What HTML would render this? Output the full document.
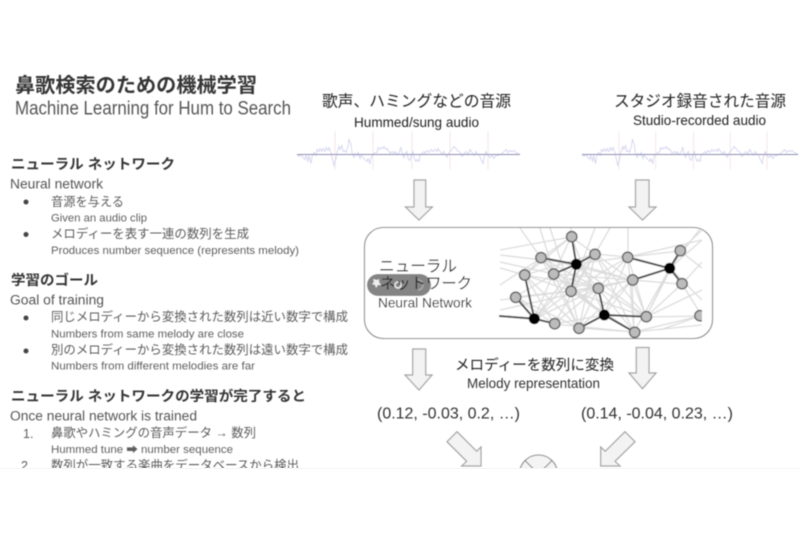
<!DOCTYPE html>
<html lang="ja">
<head>
<meta charset="utf-8">
<title>Machine Learning for Hum to Search</title>
<style>
html,body{margin:0;padding:0;width:800px;height:533px;background:#fff;overflow:hidden}
svg{display:block}
text{font-family:"Liberation Sans","Noto Sans CJK JP",sans-serif;dominant-baseline:central}
.h{font-weight:700;fill:#353535}
.l{fill:#555}
.s{fill:#5e5e5e}
.j{fill:#5c5c5c}
.r{fill:#222}
.arrow{fill:#f3f3f3;stroke:#a2a2a2;stroke-width:1.2}
</style>
</head>
<body>
<svg width="800" height="533" viewBox="0 0 800 533" xmlns="http://www.w3.org/2000/svg">
<defs>
<filter id="b" x="-2%" y="-2%" width="104%" height="104%"><feGaussianBlur stdDeviation="0.55"/></filter>
<clipPath id="page"><rect x="0" y="0" width="800" height="468"/></clipPath>
<clipPath id="net"><rect x="499" y="228" width="203" height="110"/></clipPath>
<g id="wave">
<g stroke="#f3dfe3" stroke-width="0.8"><line x1="38" y1="-23" x2="38" y2="15"/><line x1="76" y1="-23" x2="76" y2="15"/><line x1="115" y1="-23" x2="115" y2="15"/><line x1="153" y1="-23" x2="153" y2="15"/><line x1="191" y1="-23" x2="191" y2="15"/></g>
<polyline fill="none" stroke="#cfcfee" stroke-width="0.8" points="0,0 2,2 4,0 6,3 8,5 9,1 11,7 12,1 14,9 15,2 17,-2 19,1 20,-5 22,-3 23,-6 25,-3 26,-6 28,-3 29,-7 31,-4 32,-7 34,-2 35,3 36,7 37,11 39,4 40,-2 42,-8 43,-5 45,-9 46,-3 48,-4 49,-2 51,-8 52,-15 54,-10 55,-2 57,3 58,-1 60,1 61,-2 63,4 64,0 66,3 68,5 70,7 71,4 73,9 74,3 76,0 78,-2 80,-2 81,-7 83,-5 84,-7 86,-6 87,-8 89,-5 90,-6 92,-3 93,-1 95,-3 97,-1 98,-3 100,0 102,-2 104,-7 105,-2 107,3 108,-1 110,-3 111,4 113,6 114,1 116,-3 117,3 119,7 120,5 122,7 123,1 125,-1 127,-3 128,-1 130,-4 132,-2 134,-5 136,-3 138,-5 140,-3 141,-6 143,-3 145,-1 147,-3 148,0 150,3 151,0 153,-3 155,-5 157,-8 159,-6 160,-4 162,-3 164,-1 165,2 167,-1 169,-3 171,0 173,-5 175,-2 177,1 179,-3 180,-1 182,0 184,5 186,9 187,3 189,-3 191,1 193,3 195,1 197,4 199,1 201,1 203,0 205,-1 207,-3 209,-5 211,-2 213,-4 215,-3 217,-4 219,-2 221,-1 223,0"/>
<line x1="0" y1="0" x2="223" y2="0" stroke="#8e8eb0" stroke-width="0.9"/>
</g>
</defs>
<g filter="url(#b)" clip-path="url(#page)">

<!-- Left column -->
<text x="15" y="86" font-size="20" class="h" textLength="242" lengthAdjust="spacingAndGlyphs">鼻歌検索のための機械学習</text>
<text x="15" y="109" font-size="19" class="l" textLength="276" lengthAdjust="spacingAndGlyphs">Machine Learning for Hum to Search</text>

<text x="11" y="164" font-size="14" class="h" textLength="164" lengthAdjust="spacingAndGlyphs">ニューラル ネットワーク</text>
<text x="10" y="184" font-size="13.500" class="l" textLength="93" lengthAdjust="spacingAndGlyphs">Neural network</text>
<circle cx="26" cy="202" r="2.500" fill="#444"/>
<text x="51" y="202" font-size="12.300" class="j" textLength="73" lengthAdjust="spacingAndGlyphs">音源を与える</text>
<text x="51" y="218.500" font-size="11" class="s" textLength="96" lengthAdjust="spacingAndGlyphs">Given an audio clip</text>
<circle cx="26" cy="234.500" r="2.500" fill="#444"/>
<text x="51" y="234" font-size="12.300" class="j" textLength="198" lengthAdjust="spacingAndGlyphs">メロディーを表す一連の数列を生成</text>
<text x="51" y="251" font-size="11" class="s" textLength="248" lengthAdjust="spacingAndGlyphs">Produces number sequence (represents melody)</text>

<text x="11" y="280" font-size="14" class="h" textLength="87" lengthAdjust="spacingAndGlyphs">学習のゴール</text>
<text x="10" y="300" font-size="13.500" class="l" textLength="94" lengthAdjust="spacingAndGlyphs">Goal of training</text>
<circle cx="26" cy="318" r="2.500" fill="#444"/>
<text x="51" y="317" font-size="12.300" class="j" textLength="297" lengthAdjust="spacingAndGlyphs">同じメロディーから変換された数列は近い数字で構成</text>
<text x="51" y="334.500" font-size="11" class="s" textLength="193" lengthAdjust="spacingAndGlyphs">Numbers from same melody are close</text>
<circle cx="26" cy="351" r="2.500" fill="#444"/>
<text x="51" y="350" font-size="12.300" class="j" textLength="297" lengthAdjust="spacingAndGlyphs">別のメロディーから変換された数列は遠い数字で構成</text>
<text x="51" y="366.500" font-size="11" class="s" textLength="204" lengthAdjust="spacingAndGlyphs">Numbers from different melodies are far</text>

<text x="11" y="396" font-size="14" class="h" textLength="295" lengthAdjust="spacingAndGlyphs">ニューラル ネットワークの学習が完了すると</text>
<text x="10" y="416" font-size="13.500" class="l" textLength="187" lengthAdjust="spacingAndGlyphs">Once neural network is trained</text>
<text x="23" y="434" font-size="12.500" class="j">1.</text>
<text x="51" y="433" font-size="12.300" class="j" textLength="205" lengthAdjust="spacingAndGlyphs">鼻歌やハミングの音声データ → 数列</text>
<text x="51" y="450" font-size="11" class="s" textLength="182" lengthAdjust="spacingAndGlyphs">Hummed tune ➡ number sequence</text>
<text x="21" y="466" font-size="12.500" class="j">2.</text>
<text x="51" y="465.500" font-size="12.300" class="j" textLength="248" lengthAdjust="spacingAndGlyphs">数列が一致する楽曲をデータベースから検出</text>

<!-- Right headers -->
<text x="322" y="102" font-size="15.700" class="r" textLength="189" lengthAdjust="spacingAndGlyphs">歌声、ハミングなどの音源</text>
<text x="354" y="122" font-size="14" class="r" textLength="125" lengthAdjust="spacingAndGlyphs">Hummed/sung audio</text>
<text x="614" y="102" font-size="15.700" class="r" textLength="172" lengthAdjust="spacingAndGlyphs">スタジオ録音された音源</text>
<text x="633" y="120" font-size="14" class="r" textLength="133" lengthAdjust="spacingAndGlyphs">Studio-recorded audio</text>

<use href="#wave" transform="translate(297 154.500)"/>
<use href="#wave" transform="translate(582 154.500) scale(0.969 1)"/>

<!-- Top arrows -->
<polygon class="arrow" points="414,180 425.700,180 425.700,207 432.300,207 419,220 405.500,207 414,207"/>
<polygon class="arrow" points="635.500,180 649,180 649,207 656,207 642.500,220 629,207 635.500,207"/>

<!-- Network box -->
<rect x="364.500" y="227.500" width="348" height="111" rx="19" fill="#fff" stroke="#8a8a8a" stroke-width="1.100"/>
<g clip-path="url(#net)">
<g stroke="#dcdcdc" stroke-width="1.300" fill="none">
<path d="M500,255L576,264M500,262L554,274M500,268L525,275M500,300L571,291M500,285L541,258M500,310L598,288M500,250L571,237"/>
<path d="M525,275L571,291M525,275L579,328M525,275L554,324M525,275L541,258M525,275L595,254M541,258L598,288M541,258L571,291M541,258L604,315M541,258L579,328M554,274L604,315M554,274L598,288M554,274L579,328M554,274L515,297M515,297L571,291M515,297L598,288M515,297L579,328M534,319L571,291M534,319L598,288M534,319L553,274M534,319L595,254M534,319L576,264"/>
<path d="M571,237L541,258M571,237L595,254M571,237L554,274M571,237L525,275M571,237L632,280M571,237L604,315M595,254L632,280M595,254L571,291M595,254L646,317M595,254L634,332M595,254L579,328M595,254L554,324M595,254L628,257M628,257L598,288M628,257L571,291M628,257L646,317M628,257L634,332M628,257L604,315M628,257L680,251M632,280L604,315M632,280L571,291M632,280L598,288M632,280L646,317M632,280L579,328M632,280L634,332M632,280L680,284"/>
<path d="M571,291L579,328M571,291L604,315M571,291L634,332M571,291L646,317M598,288L646,317M598,288L634,332M598,288L579,328M598,288L554,324M646,317L700,316M646,317L670,268M634,332L700,316M634,332L670,268M646,317L682,284M646,317L680,251"/>
<path d="M670,268L702,240M670,268L702,300M680,251L702,230M682,284L702,316M682,284L702,262M680,251L702,268M628,257L702,240M646,317L702,290M634,332L702,325M628,228L628,257M595,228L571,291M571,228L571,237M550,228L571,291M520,228L541,258M540,228L554,274M610,228L595,254M700,229L670,268M660,330L700,316"/>
<path d="M554,324L604,315M579,328L634,332M554,324L634,332M515,297L554,324M525,275L598,288M541,258L632,280M554,274L632,280M576,264L632,280M576,264L628,257M576,264L646,317M576,264L598,288"/>
</g>
<g stroke="#4c4c4c" stroke-width="2" fill="none">
<path d="M576.300,264.300L571.700,236.700M576.300,264.300L541,257.700M576.300,264.300L595,254.300M576.300,264.300L553.700,274M576.300,264.300L571,291.300"/>
<path d="M669.700,268.300L627.700,257.300M669.700,268.300L632.700,280M669.700,268.300L680.300,250.700M669.700,268.300L682,283.700"/>
<path d="M604.300,315L598.300,288.300M604.300,315L646.300,316.700M604.300,315L634.700,332.300M604.300,315L579,328.300"/>
<path d="M534.300,318.700L524.700,275M534.300,318.700L515.700,297.300M534.300,318.700L554.700,323.700M534.300,318.700L499,316"/>
</g>
<g fill="#bcbcbc" stroke="#666" stroke-width="1.500">
<circle cx="571.700" cy="236.700" r="5.200"/><circle cx="541" cy="257.700" r="5.200"/><circle cx="595" cy="254.300" r="5.200"/><circle cx="627.700" cy="257.300" r="5.200"/><circle cx="680.300" cy="250.700" r="5.200"/><circle cx="524.700" cy="275" r="5.200"/><circle cx="553.700" cy="274" r="5.200"/><circle cx="632.700" cy="280" r="5.200"/><circle cx="682" cy="283.700" r="5.200"/><circle cx="571" cy="291.300" r="5.200"/><circle cx="598.300" cy="288.300" r="5.200"/><circle cx="515.700" cy="297.300" r="5.200"/><circle cx="646.300" cy="316.700" r="5.200"/><circle cx="700" cy="315.700" r="5.200"/><circle cx="554.700" cy="323.700" r="5.200"/><circle cx="579" cy="328.300" r="5.200"/><circle cx="634.700" cy="332.300" r="5.200"/>
</g>
<g fill="#000">
<circle cx="576.300" cy="264.300" r="5.500"/><circle cx="669.700" cy="268.300" r="5.500"/><circle cx="604.300" cy="315" r="5.500"/><circle cx="534.300" cy="318.700" r="5.500"/>
</g>
</g>

<!-- Pill overlay -->
<rect x="367" y="274" width="64" height="22" rx="11" fill="#848484"/>
<path d="M373,279l4,1 2,-1 0,3 2,3 -3,0 -2,3 -1,-3 -3,-1 2,-2z" fill="#eee"/>
<circle cx="398" cy="285" r="3" fill="none" stroke="#eee" stroke-width="1.500"/>
<path d="M418,280a5,5 0 0 1 0,10" fill="none" stroke="#a8a8a8" stroke-width="1.500"/>

<text x="379" y="267" font-size="16" class="r" textLength="78" lengthAdjust="spacingAndGlyphs">ニューラル</text>
<text x="380" y="284" font-size="15.500" class="r" textLength="92" lengthAdjust="spacingAndGlyphs">ネットワーク</text>
<text x="378" y="302.500" font-size="14" class="r" textLength="94" lengthAdjust="spacingAndGlyphs">Neural Network</text>

<!-- Middle arrows -->
<polygon class="arrow" points="412.700,349 425.700,349 425.700,375 432,375 419,390 405,375 412.700,375"/>
<polygon class="arrow" points="636.300,347.500 649,347.500 649,373 656,373 642.500,388.700 629,373 636.300,373"/>

<text x="455" y="366" font-size="14.500" class="r" textLength="159" lengthAdjust="spacingAndGlyphs">メロディーを数列に変換</text>
<text x="467" y="383" font-size="14" fill="#333" textLength="133" lengthAdjust="spacingAndGlyphs">Melody representation</text>
<text x="377" y="414" font-size="16" fill="#333" textLength="143" lengthAdjust="spacingAndGlyphs">(0.12, -0.03, 0.2, …)</text>
<text x="581" y="414" font-size="16" fill="#333" textLength="152" lengthAdjust="spacingAndGlyphs">(0.14, -0.04, 0.23, …)</text>

<!-- Diagonal arrows -->
<polygon class="arrow" points="457,431.700 476.700,451.300 481,447 481,466 461.700,466 466.700,461.300 447,441.700"/>
<polygon class="arrow" points="625,431.700 605.300,451.300 600.700,447 600.700,466 620,466 615,461.300 635,441.700"/>

<!-- Comparison circle -->
<circle cx="538.500" cy="474" r="19" fill="#f4f4f4" stroke="#8a8a8a" stroke-width="1.100"/>
<path d="M525,460.500L552,487.500M552,460.500L525,487.500" stroke="#8a8a8a" stroke-width="1.100" fill="none"/>
</g>
<line x1="0" y1="468.500" x2="800" y2="468.500" stroke="#f6f6f6" stroke-width="1"/>
</svg>
</body>
</html>
